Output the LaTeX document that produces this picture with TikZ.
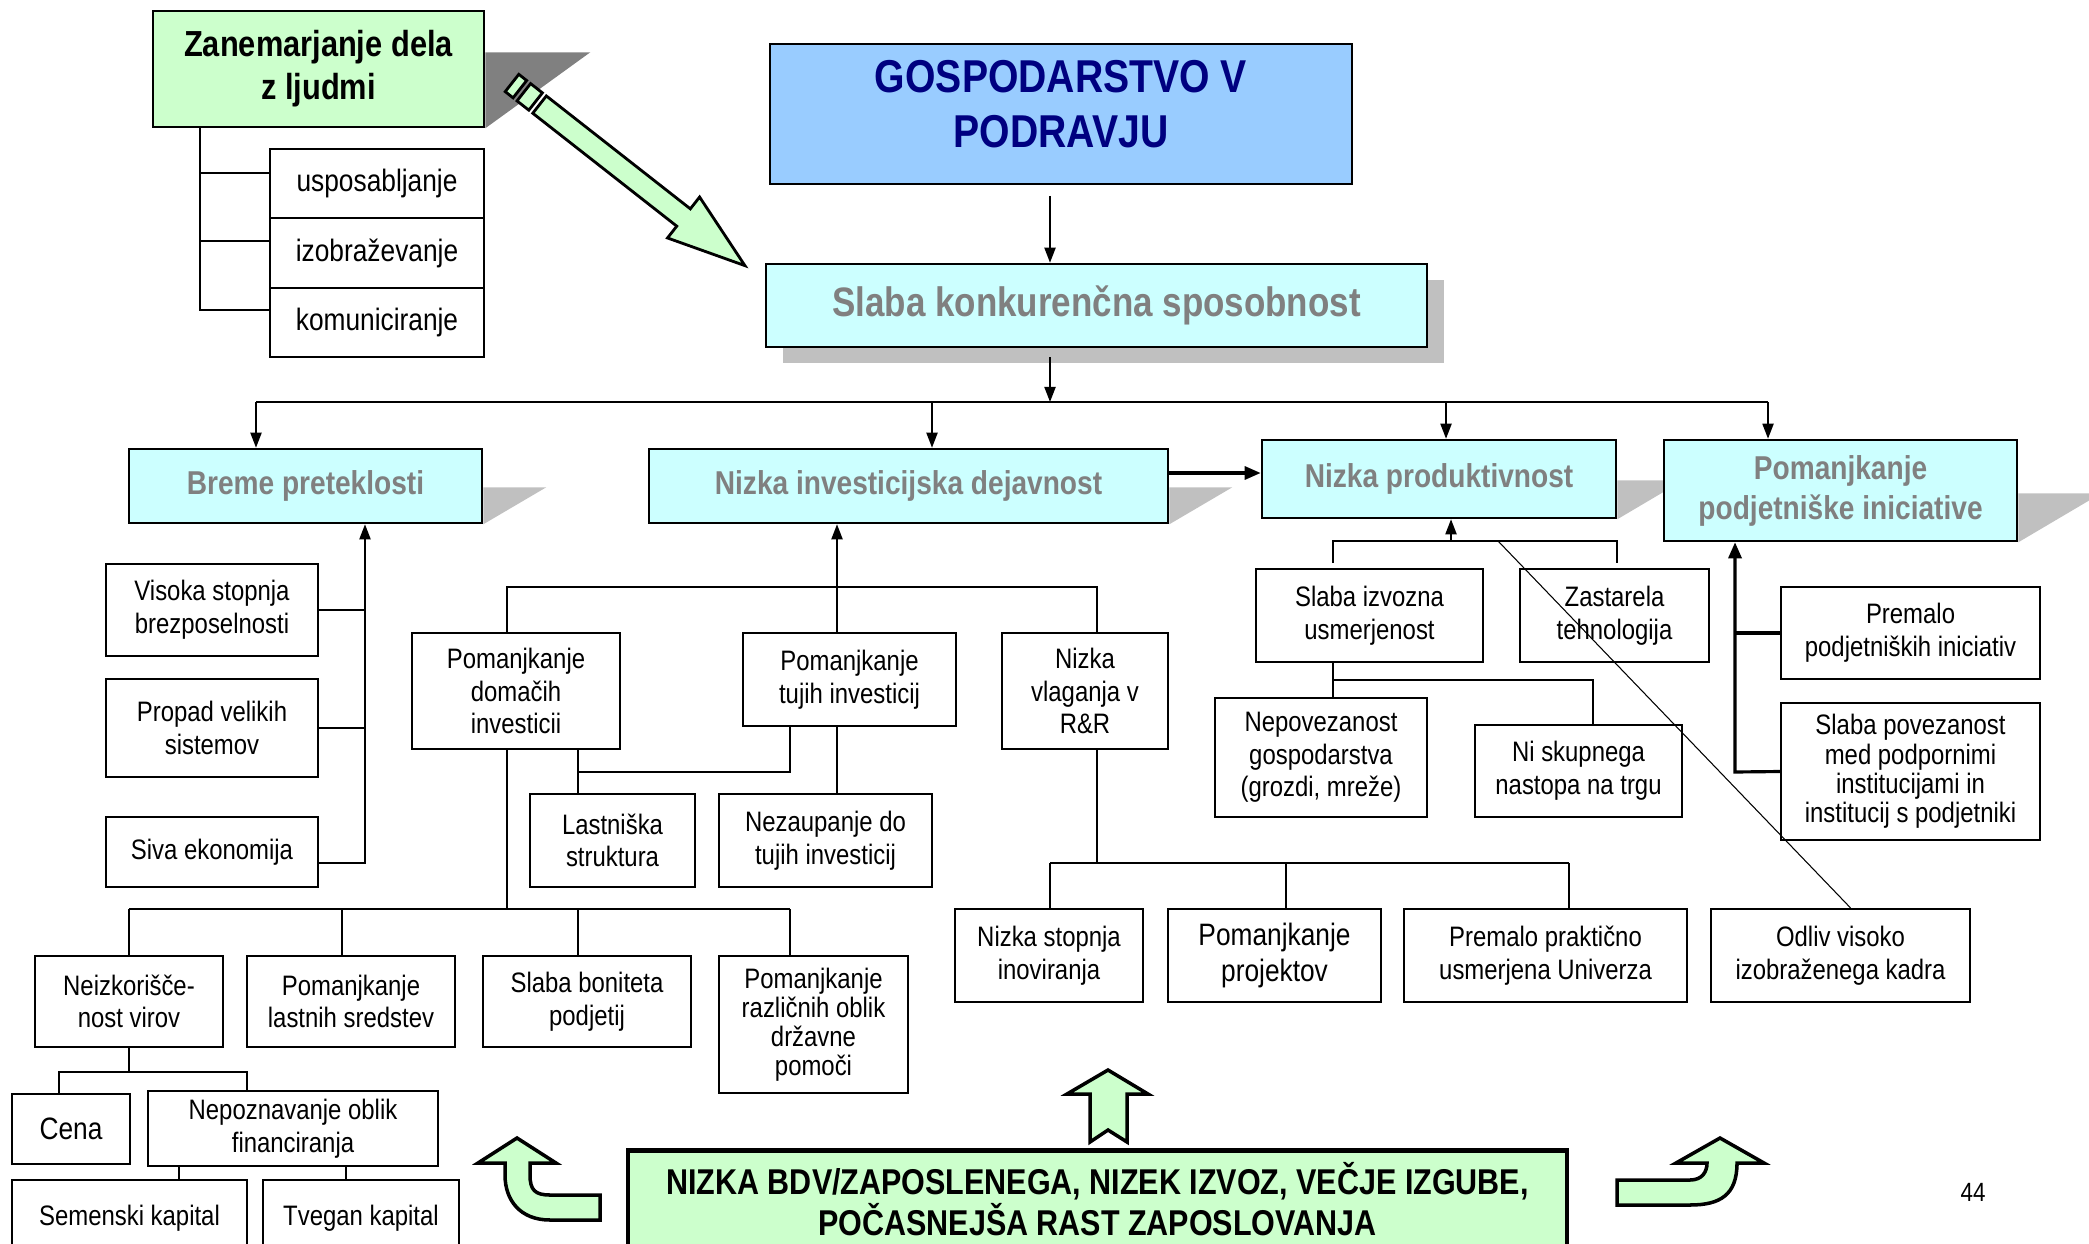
\documentclass[tikz,border=0pt]{standalone}
\usepackage{fontspec}
\setmainfont{Liberation Sans}[FakeStretch=0.85]
\usepackage{tikz}
\usetikzlibrary{arrows.meta,shadows,backgrounds}
\definecolor{cyanfill}{HTML}{CCFFFF}
\definecolor{bluefill}{HTML}{99CCFF}
\definecolor{greenfill}{HTML}{CCFFCC}
\definecolor{headgray}{HTML}{808080}
\definecolor{titlenavy}{HTML}{000080}
\definecolor{shadelight}{HTML}{C0C0C0}
\definecolor{shadedark}{HTML}{808080}
\newcommand{\fBody}{\fontsize{8}{9.3}\selectfont}
\newcommand{\fTight}{\fontsize{8}{8.3}\selectfont}
\newcommand{\fLarger}{\fontsize{8.8}{10}\selectfont}
\newcommand{\fHead}{\fontsize{9.4}{11.4}\selectfont}
\newcommand{\fKonk}{\fontsize{11.7}{14}\selectfont}
\newcommand{\fTitle}{\fontsize{13.1}{15.6}\selectfont}
\newcommand{\fZan}{\fontsize{10.3}{12.2}\selectfont}
\newcommand{\fBdv}{\fontsize{10.2}{11.7}\selectfont}
\tikzset{
  box/.style={draw=black,line width=0.6pt,fill=white,inner sep=0pt,align=center,font=\fBody},
  head/.style={draw=black,line width=0.7pt,fill=cyanfill,inner sep=0pt,align=center,text=headgray,font=\fHead\bfseries},
  greenhead/.style={head,fill=greenfill,text=black,font=\fZan\bfseries},
  conn/.style={line width=0.55pt},
  arr/.style={conn,-{Triangle[length=0.15cm,width=0.11cm]}},
  bigconn/.style={line width=0.9pt},
  bigarr/.style={bigconn,-{Triangle[length=0.16cm,width=0.13cm]}},
  blockarrow/.style={draw=black,line width=1pt,fill=greenfill,line join=miter},
}

\begin{document}
\begin{tikzpicture}[x=0.01cm,y=-0.01cm]
\useasboundingbox (0,0) rectangle (2089,1243);
\clip (0,0) rectangle (2089,1243);
% top part
\node (zan) [greenhead,minimum width=3.31cm,minimum height=1.16cm] at (318.5,69) {Zanemarjanje dela\\z ljudmi};
\node (usp) [box,font=\fLarger,minimum width=2.14cm,minimum height=0.69cm] at (377,183.5) {usposabljanje};
\node (izo) [box,font=\fLarger,minimum width=2.14cm,minimum height=0.70cm] at (377,253) {izobraževanje};
\node (kom) [box,font=\fLarger,minimum width=2.14cm,minimum height=0.69cm] at (377,322.5) {komuniciranje};
\node (gosp) [draw=black,line width=0.7pt,fill=bluefill,align=center,text=titlenavy,font=\fTitle\bfseries,minimum width=5.82cm,minimum height=1.40cm] at (1061,114) {GOSPODARSTVO V\\PODRAVJU\rule[-0.2cm]{0pt}{0pt}};
\node (slaba) [head,font=\fKonk\bfseries,minimum width=6.61cm,minimum height=0.83cm,
  drop shadow={shadow xshift=0.17cm,shadow yshift=-0.16cm,fill=shadelight,opacity=1}] at (1096.5,305.5) {Slaba konkurenčna sposobnost};
%
\node (breme) [head,minimum width=3.53cm,minimum height=0.74cm] at (305.5,486) {Breme preteklosti};
\node (nizinv) [head,minimum width=5.19cm,minimum height=0.74cm] at (908.5,486) {Nizka investicijska dejavnost};
\node (nizprod) [head,minimum width=3.54cm,minimum height=0.78cm] at (1439,479) {Nizka produktivnost};
\node (pompod) [head,minimum width=3.53cm,minimum height=1.01cm] at (1840.5,490.5) {Pomanjkanje\\podjetniške iniciative};
% left column
\node (visoka) [box,minimum width=2.12cm,minimum height=0.92cm] at (212,610) {Visoka stopnja\\brezposelnosti};
\node (propad) [box,minimum width=2.12cm,minimum height=0.98cm] at (212,728) {Propad velikih\\sistemov};
\node (siva) [box,minimum width=2.12cm,minimum height=0.70cm] at (212,852) {Siva ekonomija};
% investment column
\node (pomdom) [box,minimum width=2.08cm,minimum height=1.16cm] at (516,691) {Pomanjkanje\\domačih\\investicii};
\node (pomtuj) [box,minimum width=2.13cm,minimum height=0.93cm] at (849.5,679.5) {Pomanjkanje\\tujih investicij};
\node (nizvl) [box,minimum width=1.66cm,minimum height=1.16cm] at (1085,691) {Nizka\\vlaganja v\\R\&R};
\node (lastn) [box,minimum width=1.65cm,minimum height=0.93cm] at (612.5,840.5) {Lastniška\\struktura};
\node (nezaup) [box,minimum width=2.13cm,minimum height=0.93cm] at (825.5,840.5) {Nezaupanje do\\tujih investicij};
\node (neizk) [box,minimum width=1.88cm,minimum height=0.91cm] at (129,1001.5) {Neizkorišče-\\nost virov};
\node (pomlast) [box,minimum width=2.08cm,minimum height=0.91cm] at (351,1001.5) {Pomanjkanje\\lastnih sredstev};
\node (slabon) [box,minimum width=2.08cm,minimum height=0.91cm] at (587,1001.5) {Slaba boniteta\\podjetij};
\node (pomraz) [box,font=\fTight,minimum width=1.89cm,minimum height=1.37cm] at (813.5,1024.5) {Pomanjkanje\\različnih oblik\\državne\\pomoči};
\node (cena) [box,font=\fLarger,minimum width=1.18cm,minimum height=0.70cm] at (71,1129) {Cena};
\node (nepoz) [box,minimum width=2.90cm,minimum height=0.75cm] at (293,1128.5) {Nepoznavanje oblik\\financiranja};
\node (semen) [box,minimum width=2.35cm,minimum height=0.76cm] at (129.5,1218) {Semenski kapital};
\node (tveg) [box,minimum width=1.96cm,minimum height=0.76cm] at (361,1218) {Tvegan kapital};
% R&R row
\node (nizst) [box,minimum width=1.88cm,minimum height=0.93cm] at (1049,955.5) {Nizka stopnja\\inoviranja};
\node (pomproj) [box,font=\fLarger,minimum width=2.13cm,minimum height=0.93cm] at (1274.5,955.5) {Pomanjkanje\\projektov};
\node (premprak) [box,minimum width=2.83cm,minimum height=0.93cm] at (1545.5,955.5) {Premalo praktično\\usmerjena Univerza};
\node (odliv) [box,minimum width=2.59cm,minimum height=0.93cm] at (1840.5,955.5) {Odliv visoko\\izobraženega kadra};
% productivity column
\node (slizv) [box,minimum width=2.27cm,minimum height=0.93cm] at (1369.5,615.5) {Slaba izvozna\\usmerjenost};
\node (zast) [box,minimum width=1.89cm,minimum height=0.93cm] at (1614.5,615.5) {Zastarela\\tehnologija};
\node (nepov) [box,minimum width=2.12cm,minimum height=1.19cm] at (1321,757.5) {Nepovezanost\\gospodarstva\\(grozdi, mreže)};
\node (niskup) [box,minimum width=2.07cm,minimum height=0.92cm] at (1578.5,771) {Ni skupnega\\nastopa na trgu};
\node (premp) [box,minimum width=2.59cm,minimum height=0.92cm] at (1910.5,633) {Premalo\\podjetniških iniciativ};
\node (slpov) [box,font=\fTight,minimum width=2.59cm,minimum height=1.37cm] at (1910.5,771.5) {Slaba povezanost\\med podpornimi\\institucijami in\\institucij s podjetniki};
% bottom
\node (bdv) [draw=black,line width=1.2pt,fill=greenfill,align=center,font=\fBdv\bfseries,minimum width=9.39cm,minimum height=0.96cm] at (1097.5,1199) {NIZKA BDV/ZAPOSLENEGA, NIZEK IZVOZ, VEČJE IZGUBE,\\POČASNEJŠA RAST ZAPOSLOVANJA};
\node (pnum) [font=\fontsize{7.5}{9}\selectfont] at (1973,1192) {44};
%
\begin{scope}[on background layer]
\fill[shadedark] (zan.south east) -- ++(0,-76) -- ++(105,0) -- cycle;
\fill[shadelight] (breme.south east) -- ++(0,-37) -- ++(63,0) -- cycle;
\fill[shadelight] (nizinv.south east) -- ++(0,-37) -- ++(63,0) -- cycle;
\fill[shadelight] (nizprod.south east) -- ++(0,-39) -- ++(66,0) -- cycle;
\fill[shadelight] (pompod.south east) -- ++(0,-49) -- ++(83,0) -- cycle;
\end{scope}
% Zanemarjanje tree
\coordinate (z1) at (200,173);
\coordinate (z2) at (200,241);
\coordinate (z3) at (200,310);
\draw[conn] (z3 |- zan.south) -- (z3) -- (z3 -| kom.west);
\draw[conn] (z1) -- (z1 -| usp.west);
\draw[conn] (z2) -- (z2 -| izo.west);
% main spine
\coordinate (g1) at (1050,196);
\coordinate (s1) at (1050,357);
\coordinate (busL) at (256,402);
\coordinate (busR) at (1768,402);
\coordinate (b2) at (932,402);
\coordinate (b3) at (1446,402);
\draw[arr] (g1) -- (g1 |- slaba.north);
\draw[arr] (s1) -- (s1 |- busL);
\draw[conn] (busL) -- (busR);
\draw[arr] (busL) -- (busL |- breme.north);
\draw[arr] (b2) -- (b2 |- nizinv.north);
\draw[arr] (b3) -- (b3 |- nizprod.north);
\draw[arr] (busR) -- (busR |- pompod.north);
\coordinate (ip) at (1168,473);
\draw[bigarr] (ip) -- (ip -| nizprod.west);
% Breme tree
\coordinate (bt) at (365,863);
\draw[arr] (bt -| siva.east) -- (bt) -- (bt |- breme.south);
\draw[conn] (visoka.east) -- (visoka.east -| bt);
\draw[conn] (propad.east) -- (propad.east -| bt);
% investment tree
\coordinate (il) at (507,587);
\coordinate (it) at (837,587);
\coordinate (ir) at (1097,587);
\draw[conn] (il |- pomdom.north) -- (il) -- (ir) -- (ir |- nizvl.north);
\draw[arr] (it |- pomtuj.north) -- (it |- nizinv.south);
\coordinate (ls) at (578,772);
\coordinate (lt) at (790,772);
\draw[conn] (ls |- pomdom.south) -- (ls |- lastn.north);
\draw[conn] (ls) -- (lt) -- (lt |- pomtuj.south);
\draw[conn] (it |- pomtuj.south) -- (it |- nezaup.north);
\coordinate (d1) at (129,909);
\coordinate (d2) at (342,909);
\coordinate (d3) at (578,909);
\coordinate (d4) at (790,909);
\draw[conn] (il |- pomdom.south) -- (il |- d1);
\draw[conn] (d1) -- (d4);
\draw[conn] (d1) -- (d1 |- neizk.north);
\draw[conn] (d2) -- (d2 |- pomlast.north);
\draw[conn] (d3) -- (d3 |- slabon.north);
\draw[conn] (d4) -- (d4 |- pomraz.north);
\coordinate (n0) at (129,1072);
\coordinate (n1) at (59,1072);
\coordinate (n2) at (247,1072);
\draw[conn] (n0 |- neizk.south) -- (n0);
\draw[conn] (n1 |- cena.north) -- (n1) -- (n2) -- (n2 |- nepoz.north);
\coordinate (f1) at (179,1180);
\coordinate (f2) at (346,1180);
\draw[conn] (f1 |- nepoz.south) -- (f1 |- semen.north);
\draw[conn] (f2 |- nepoz.south) -- (f2 |- tveg.north);
% R&R tree
\coordinate (rv) at (1097,863);
\coordinate (r1) at (1050,863);
\coordinate (r2) at (1286,863);
\coordinate (r3) at (1569,863);
\draw[conn] (ir |- nizvl.south) -- (rv);
\draw[conn] (r1) -- (r3);
\draw[conn] (r1) -- (r1 |- nizst.north);
\draw[conn] (r2) -- (r2 |- pomproj.north);
\draw[conn] (r3) -- (r3 |- premprak.north);
% productivity tree
\coordinate (pl) at (1333,541);
\coordinate (pu) at (1451,541);
\coordinate (pr) at (1617,541);
\coordinate (pl2) at (1333,563);
\coordinate (pr2) at (1617,563);
\draw[conn] (pl2) -- (pl) -- (pr) -- (pr2);
\draw[arr] (pu) -- (pu |- nizprod.south);
\coordinate (sv) at (1333,680);
\coordinate (sn) at (1593,680);
\draw[conn] (sv |- slizv.south) -- (sv |- nepov.north);
\draw[conn] (sv) -- (sn) -- (sn |- niskup.north);
% initiative tree
\coordinate (pv) at (1735,772);
\draw[bigarr] (slpov.west) -- (pv) -- (pv |- pompod.south);
\draw[bigconn] (premp.west) -- (premp.west -| pv);
\coordinate (dg) at (1498,541);
\draw[line width=0.3pt] (dg) -- ([xshift=0.1cm]odliv.north);
% block arrows
\begin{scope}[shift={(512,83)},rotate=-38.1]
\draw[blockarrow,line width=0.8pt] (0,-11) rectangle (10,11);
\draw[blockarrow,line width=0.8pt] (15,-11) rectangle (30,11);
\draw[blockarrow,line width=0.8pt] (35,-11) -- (218,-11) -- (218,-26) -- (296,0) -- (218,26) -- (218,11) -- (35,11) -- cycle;
\end{scope}
\draw[blockarrow] (1108,1070) -- (1148,1094) -- (1127,1094) -- (1127,1142) -- (1108,1130) -- (1090,1142) -- (1090,1094) -- (1067,1094) -- cycle;
\draw[blockarrow] (517,1138) -- (556,1163) -- (530,1163) -- (530,1175) .. controls (530,1190) and (535,1195) .. (550,1195) -- (600,1195) -- (600,1220) -- (550,1220) .. controls (520,1220) and (505,1200) .. (505,1175) -- (505,1163) -- (478,1163) -- cycle;
\draw[blockarrow] (1720,1138) -- (1764,1163) -- (1737,1163) .. controls (1737,1195) and (1720,1205) .. (1690,1205) -- (1617,1205) -- (1617,1180) -- (1690,1180) .. controls (1702,1180) and (1707,1172) .. (1707,1163) -- (1676,1163) -- cycle;
\end{tikzpicture}
\end{document}
